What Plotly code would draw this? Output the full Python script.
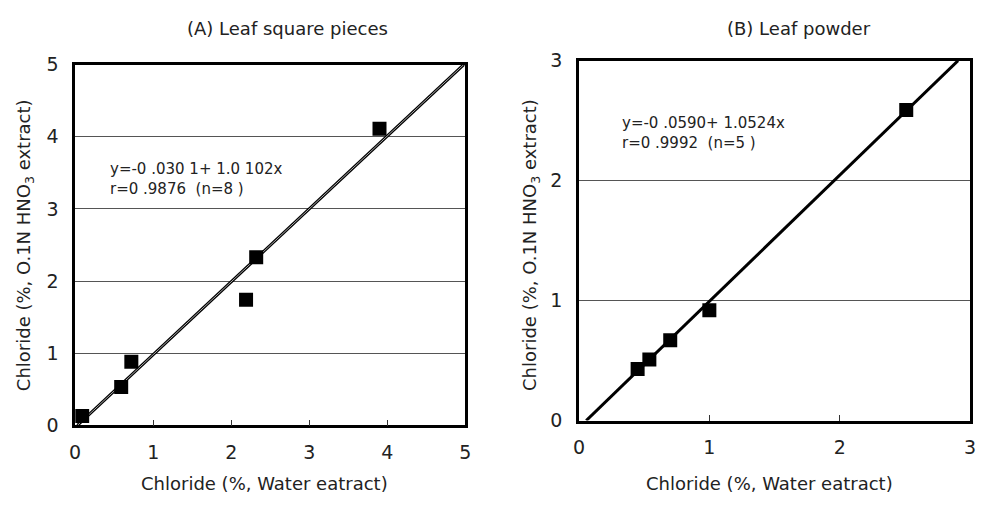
import plotly.graph_objects as go

# Panel A data
a_x = [0.09, 0.59, 0.72, 2.19, 2.32, 3.90]
a_y = [0.13, 0.53, 0.88, 1.74, 2.33, 4.11]
a_intercept, a_slope = -0.0301, 1.0102
a_line_x = [0.03, 4.98]
a_ticks = [0, 1, 2, 3, 4, 5]

# Panel B data
b_x = [0.45, 0.54, 0.70, 1.00, 2.51]
b_y = [0.43, 0.51, 0.67, 0.92, 2.59]
b_intercept, b_slope = -0.0590, 1.0524
b_line_x = [0.056, 2.907]
b_ticks = [0, 1, 2, 3]

FONT = "DejaVu Sans"
W, H = 987, 510

fig = go.Figure()

def add_panel(xs, ys, lx, ic, sl, xa, ya, grey_ref):
    ly = [ic + sl * v for v in lx]
    fig.add_trace(go.Scatter(x=lx, y=ly, mode="lines", line=dict(color="black", width=3),
                             xaxis=xa, yaxis=ya, showlegend=False, hoverinfo="skip"))
    if grey_ref:
        fig.add_trace(go.Scatter(x=lx, y=ly, mode="lines",
                                 line=dict(color="#aaaaaa", width=1),
                                 xaxis=xa, yaxis=ya, showlegend=False, hoverinfo="skip"))
    fig.add_trace(go.Scatter(x=xs, y=ys, mode="markers",
                             marker=dict(symbol="square", size=14, color="black"),
                             xaxis=xa, yaxis=ya, showlegend=False))

add_panel(a_x, a_y, a_line_x, a_intercept, a_slope, "x", "y", True)
add_panel(b_x, b_y, b_line_x, b_intercept, b_slope, "x2", "y2", False)

def px_x(p):
    return p / W

def px_y(p):
    return 1 - p / H

axis_common = dict(showline=True, linecolor="black", linewidth=2.5, mirror=True,
                   zeroline=False, tickfont=dict(family=FONT, size=19, color="#222"),
                   fixedrange=True)

fig.update_layout(
    width=W, height=H, margin=dict(l=0, r=0, t=0, b=0),
    paper_bgcolor="white", plot_bgcolor="white",
    xaxis=dict(domain=[px_x(70), px_x(465)], range=[0, 5], tickvals=a_ticks,
               showgrid=False, ticks="inside", ticklen=6, tickcolor="#333",
               ticklabelstandoff=8, ticklabeloverflow="allow", anchor="y", **axis_common),
    yaxis=dict(domain=[px_y(433), px_y(56)], range=[0, 5], tickvals=a_ticks,
               showgrid=True, gridcolor="#555", gridwidth=1, ticks="",
               ticklabelstandoff=10, anchor="x", **axis_common),
    xaxis2=dict(domain=[px_x(580), px_x(976)], range=[0, 3], tickvals=b_ticks,
                showgrid=False, ticks="inside", ticklen=6, tickcolor="#333",
                ticklabelstandoff=8, ticklabeloverflow="allow", anchor="y2", **axis_common),
    yaxis2=dict(domain=[px_y(428), px_y(52)], range=[0, 3], tickvals=b_ticks,
                showgrid=True, gridcolor="#555", gridwidth=1, ticks="",
                ticklabelstandoff=10, anchor="x2", **axis_common),
)

def ann(text, x, y, size=18, angle=0, xanchor="center"):
    fig.add_annotation(text=text, x=px_x(x), y=px_y(y), xref="paper", yref="paper",
                       showarrow=False, textangle=angle, xanchor=xanchor, yanchor="middle",
                       align="left",
                       font=dict(family=FONT, size=size, color="#222"))

ann("(A) Leaf square pieces", 285, 18)
ann("(B) Leaf powder", 803, 18)
ann("Chloride (%, Water eatract)", 262, 494)
ann("Chloride (%, Water eatract)", 773, 494)
ann("Chloride (%, O.1N HNO<sub>3</sub> extract)", 20, 245, angle=-90)
ann("Chloride (%, O.1N HNO<sub>3</sub> extract)", 532, 245, angle=-90)
ann("y=-0 .030 1+ 1.0 102x<br>r=0 .9876  (n=8 )", 103, 176, size=15, xanchor="left")
ann("y=-0 .0590+ 1.0524x<br>r=0 .9992  (n=5 )", 622, 128, size=15, xanchor="left")

fig.write_html(
    "out.html",
    config={"displayModeBar": False},
    post_script="document.body.style.margin='0';document.body.style.overflow='hidden';",
)
